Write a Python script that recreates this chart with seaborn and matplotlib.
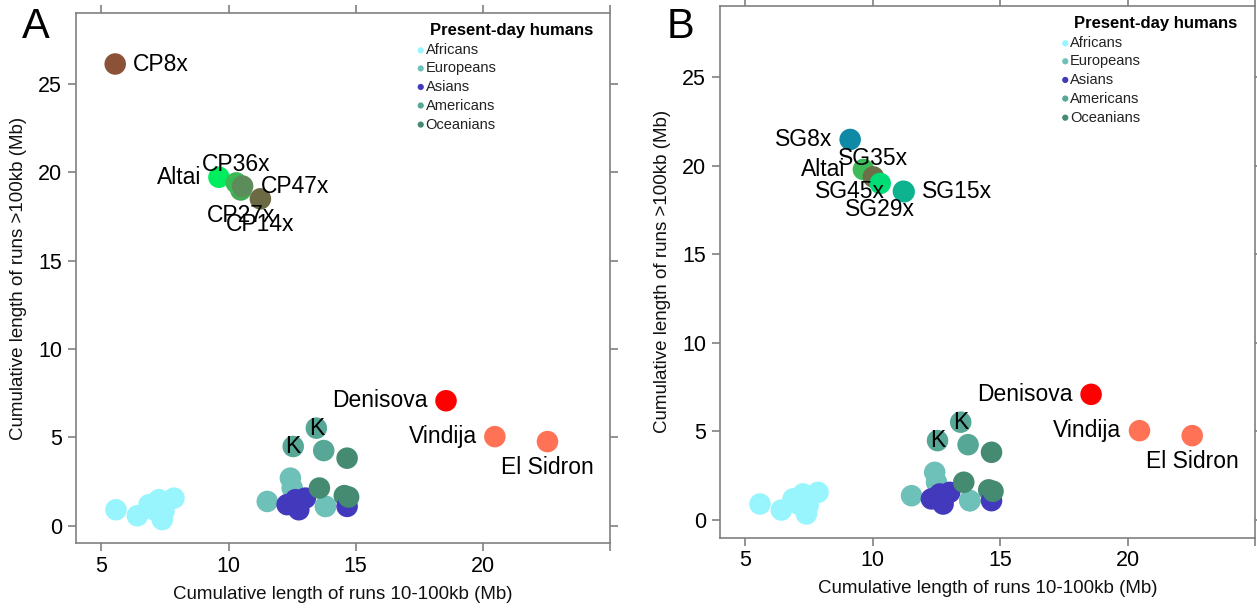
import numpy as np
import pandas as pd
import matplotlib
matplotlib.use("Agg")
import matplotlib.pyplot as plt
import seaborn as sns

# ---- present-day human samples (shared by both panels) ----
human_group = (["Africans"] * 8
               + ["Europeans"] * 4
               + ["Asians"] * 4
               + ["Europeans"]
               + ["Americans"] * 3
               + ["Oceanians"] * 3
               + ["Asians"]
               + ["Oceanians"])
human_x = [5.57, 6.41, 6.87, 7.07, 7.26, 7.39, 7.46, 7.85,
           11.52, 12.43, 12.50, 13.81,
           12.30, 12.76, 12.63, 13.02,
           13.81,
           12.54, 13.45, 13.74,
           13.57, 14.66, 14.55,
           14.66,
           14.72]
human_y = [0.90, 0.56, 1.19, 0.90, 1.47, 0.34, 0.81, 1.56,
           1.37, 2.69, 2.13, 1.09,
           1.19, 0.90, 1.47, 1.56,
           1.09,
           4.48, 5.52, 4.25,
           2.13, 3.82, 1.70,
           1.09,
           1.62]
karitiana_x = [12.54, 13.45]
karitiana_y = [4.48, 5.52]

group_names = ["Africans", "Europeans", "Asians", "Americans", "Oceanians"]
group_colors = ["#98f5fd", "#6ec1b8", "#4239bd", "#56a795", "#448b72"]

# ---- archaic genomes, panel A (downsampled coverage, CP) ----
a_names = ["CP8x", "Altai", "CP27x", "CP36x", "CP47x", "CP14x",
           "Denisova", "Vindija", "El Sidron"]
a_x = [5.54, 9.62, 10.48, 10.30, 10.55, 11.25, 18.55, 20.47, 22.54]
a_y = [26.13, 19.72, 19.00, 19.40, 19.22, 18.50, 7.07, 5.04, 4.76]
a_colors = ["#8b5238", "#00ee5e", "#45a852", "#3cb955", "#5b8c5a", "#6b6a44",
            "#ff0000", "#ff7256", "#ff7256"]
a_pos = ["right", "left", "below", "above", "right", "below",
         "left", "left", "below"]

# ---- archaic genomes, panel B (SG) ----
b_names = ["SG45x", "SG8x", "Altai", "SG35x", "SG29x", "SG15x",
           "Denisova", "Vindija", "El Sidron"]
b_x = [11.20, 9.11, 9.63, 10.02, 10.29, 11.23, 18.57, 20.47, 22.54]
b_y = [18.55, 21.47, 19.78, 19.36, 18.99, 18.52, 7.09, 5.04, 4.76]
b_colors = ["#10b090", "#0e8aa6", "#3cbb58", "#6b7048", "#00dd77", "#0db38f",
            "#ff0000", "#ff7256", "#ff7256"]
b_pos = ["left", "left", "left", "above", "below", "right",
         "left", "left", "below"]

x_ticks = [5, 10, 15, 20, 25]
x_tick_labels = ["5", "10", "15", "20", ""]
y_ticks = [0, 5, 10, 15, 20, 25]

sns.set_style("white")
plt.rcParams["font.family"] = ["Liberation Sans", "DejaVu Sans"]

fig = plt.figure(figsize=(12.57, 6.10), dpi=100)
ax_a = fig.add_axes([0.0605, 0.1093, 0.4248, 0.8689])
ax_b = fig.add_axes([0.5728, 0.1185, 0.4255, 0.8716])

SPINE = "#808080"
MARKER_S = 240
LABEL_FS = 16.5

offsets = {"right": (13, 0, "left", "center"),
           "left": (-13, 0, "right", "center"),
           "above": (0, 13, "center", "center"),
           "below": (0, -18.5, "center", "center")}


def draw_panel(ax, names, xs, ys, colors, positions, letter, letter_x):
    human_palette = dict(zip(group_names, group_colors))
    hum = pd.DataFrame({"x": human_x, "y": human_y,
                        "color": [human_palette[g] for g in human_group]})
    arch = pd.DataFrame({"x": xs, "y": ys, "color": colors})
    pts = pd.concat([hum, arch], ignore_index=True)
    palette = {c: c for c in pts["color"].unique()}
    sns.scatterplot(data=pts, x="x", y="y", hue="color", palette=palette,
                    s=MARKER_S, linewidth=0, legend=False, ax=ax, zorder=3)

    for kx, ky in zip(karitiana_x, karitiana_y):
        ax.text(kx, ky, "K", ha="center", va="center", fontsize=LABEL_FS,
                color="black", zorder=5)

    for name, x, y, p in zip(names, xs, ys, positions):
        dx, dy, ha, va = offsets[p]
        ax.annotate(name, (x, y), xytext=(dx, dy), textcoords="offset points",
                    ha=ha, va=va, fontsize=LABEL_FS, color="black", zorder=6)

    ax.set_xlim(4.0, 25.0)
    ax.set_ylim(-1.0, 29.0)
    ax.set_xticks(x_ticks)
    ax.set_xticklabels(x_tick_labels)
    ax.set_yticks(y_ticks)
    ax.tick_params(axis="both", which="both", direction="out", length=6,
                   width=1.2, color=SPINE, labelsize=15.5, labelcolor="black",
                   top=True, right=True, bottom=True, left=True,
                   labeltop=False, labelright=False)
    ax.tick_params(axis="x", pad=3)
    ax.tick_params(axis="y", pad=4)
    for sp in ax.spines.values():
        sp.set_visible(True)
        sp.set_color(SPINE)
        sp.set_linewidth(1.2)

    ax.set_xlabel("Cumulative length of runs 10-100kb (Mb)", fontsize=13.5,
                  color="#111111")
    ax.set_ylabel("Cumulative length of runs >100kb (Mb)", fontsize=13.5,
                  color="#111111")
    ax.xaxis.set_label_coords(0.5, -0.08)
    ax.yaxis.set_label_coords(-0.092, 0.5)

    # legend for present-day human groups
    ax.text(0.815, 0.968, "Present-day humans", transform=ax.transAxes,
            ha="center", va="center", fontsize=12, fontweight="bold",
            color="black")
    entry_y = [0.930, 0.896, 0.861, 0.826, 0.790]
    ax.scatter([0.6455] * len(entry_y), entry_y, s=20, c=group_colors,
               transform=ax.transAxes, linewidths=0, clip_on=False, zorder=4)
    for gy, gname in zip(entry_y, group_names):
        ax.text(0.6545, gy, gname, transform=ax.transAxes, ha="left",
                va="center", fontsize=10.5, color="#222222")

    fig.text(letter_x, 1 - 27 / 610, letter, ha="center", va="center",
             fontsize=30, color="black")


draw_panel(ax_a, a_names, a_x, a_y, a_colors, a_pos, "A", 36 / 1257)
draw_panel(ax_b, b_names, b_x, b_y, b_colors, b_pos, "B", 681 / 1257)

fig.savefig("out.png", dpi=100)
